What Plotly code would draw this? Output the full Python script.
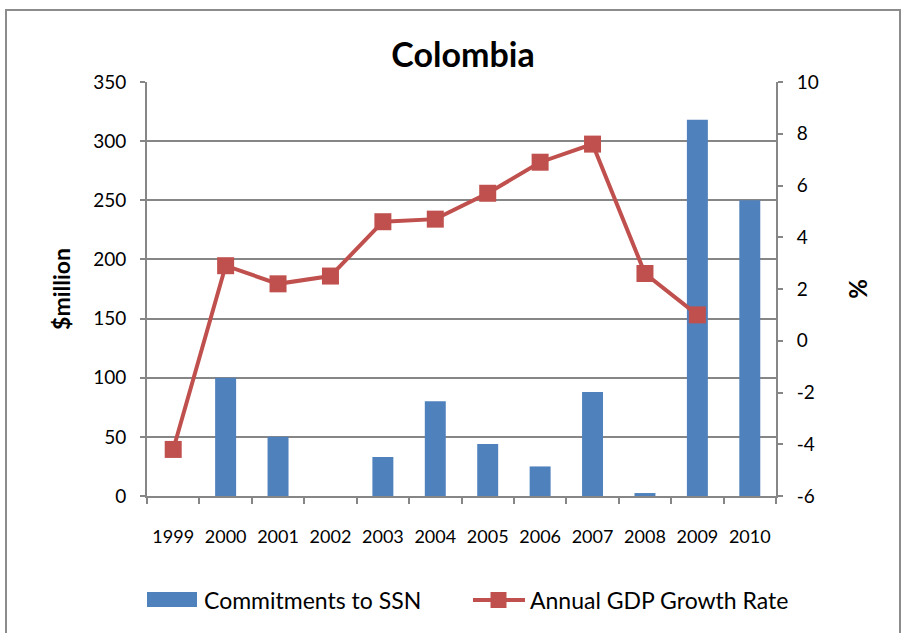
import plotly.graph_objects as go

years = ["1999", "2000", "2001", "2002", "2003", "2004", "2005",
         "2006", "2007", "2008", "2009", "2010"]
ssn_commitments = [0, 100, 50, 0, 33, 80, 44, 25, 88, 2.5, 318, 250]
gdp_growth = [-4.2, 2.9, 2.2, 2.5, 4.6, 4.7, 5.7, 6.9, 7.6, 2.6, 1.0, None]
pct_ticks = [-6, -4, -2, 0, 2, 4, 6, 8, 10]
pct_labels = ["-6", "-4", "-2", "0", "2", "4", "6", "8", "10"]

SERIES_NAMES = ["Commitments to SSN", "Annual GDP Growth Rate"]

FONT = "Lato, 'Open Sans', sans-serif"
GRID = "#868686"
BAR_BLUE = "#4F81BD"
LINE_RED = "#C0504D"

fig = go.Figure()
fig.add_trace(go.Bar(
    x=years, y=ssn_commitments, name=SERIES_NAMES[0],
    marker=dict(color=BAR_BLUE, line=dict(width=0)),
    width=0.4, yaxis="y", showlegend=False,
))
fig.add_trace(go.Scatter(
    x=years, y=gdp_growth, name=SERIES_NAMES[1],
    mode="lines+markers", yaxis="y2", showlegend=False,
    line=dict(color=LINE_RED, width=4),
    marker=dict(symbol="square", size=17, color=LINE_RED),
))

# plot area in pixels: x 147..776, y 82..496
L, R, T, B = 147, 128, 82, 137
W, H = 904, 633
pw, ph = W - L - R, H - T - B


def px_x(p):
    return (p - L) / pw


def px_y(p):
    return (H - B - p) / ph


# hand-built legend row below the chart
legend_y = 600
legend_shapes = [
    dict(type="rect", xref="paper", yref="paper",
         x0=px_x(147), x1=px_x(197), y0=px_y(607), y1=px_y(592),
         fillcolor=BAR_BLUE, line=dict(width=0)),
    dict(type="line", xref="paper", yref="paper",
         x0=px_x(473), x1=px_x(525), y0=px_y(legend_y), y1=px_y(legend_y),
         line=dict(color=LINE_RED, width=4)),
    dict(type="rect", xref="paper", yref="paper",
         x0=px_x(490.5), x1=px_x(506.5), y0=px_y(legend_y + 8), y1=px_y(legend_y - 8),
         fillcolor=LINE_RED, line=dict(width=0)),
]
legend_text = [
    dict(text=SERIES_NAMES[0], xref="paper", yref="paper",
         x=px_x(202), y=px_y(legend_y), xanchor="left", yanchor="middle",
         showarrow=False, font=dict(family=FONT, size=23, color="#000")),
    dict(text=SERIES_NAMES[1], xref="paper", yref="paper",
         x=px_x(528), y=px_y(legend_y), xanchor="left", yanchor="middle",
         showarrow=False, font=dict(family=FONT, size=23, color="#000")),
]

border = dict(
    type="rect", xref="paper", yref="paper",
    x0=px_x(6), x1=px_x(900), y0=px_y(640), y1=px_y(10),
    line=dict(color="#8c8c8c", width=2), fillcolor="rgba(0,0,0,0)",
    layer="below",
)

fig.update_layout(
    width=W, height=H,
    margin=dict(l=L, r=R, t=T, b=B, autoexpand=False),
    paper_bgcolor="white", plot_bgcolor="white",
    font=dict(family=FONT, size=18, color="#000"),
    title=dict(text="<b>Colombia</b>", xref="container", x=463 / W,
               xanchor="center", y=1 - 55 / H, yanchor="middle",
               font=dict(family=FONT, size=34, color="#000")),
    showlegend=False,
    xaxis=dict(
        type="category", showgrid=False,
        showline=True, linecolor=GRID, linewidth=2,
        ticks="outside", tickson="boundaries", ticklen=6, tickcolor=GRID,
        tickwidth=2, tickfont=dict(size=18), ticklabelstandoff=23,
        tickangle=0, range=[-0.5, 11.5],
    ),
    yaxis=dict(
        range=[0, 350], dtick=50, tick0=0,
        showgrid=True, gridcolor=GRID, gridwidth=2,
        showline=True, linecolor=GRID, linewidth=2,
        ticks="outside", ticklen=5, tickcolor=GRID, tickwidth=2,
        ticklabelstandoff=10, tickfont=dict(size=19),
        zeroline=False,
        title=dict(text="<b>$million</b>", font=dict(size=23), standoff=16),
    ),
    yaxis2=dict(
        overlaying="y", side="right",
        range=[-6, 10], tickvals=pct_ticks, ticktext=pct_labels,
        showgrid=False, zeroline=False,
        showline=True, linecolor=GRID, linewidth=2,
        ticks="outside", ticklen=5, tickcolor=GRID, tickwidth=2,
        ticklabelstandoff=10, tickfont=dict(size=19),
        title=dict(text="<b>%</b>", font=dict(size=24), standoff=32),
    ),
    shapes=[border] + legend_shapes,
    annotations=legend_text,
)

fig.write_html("out.html")
